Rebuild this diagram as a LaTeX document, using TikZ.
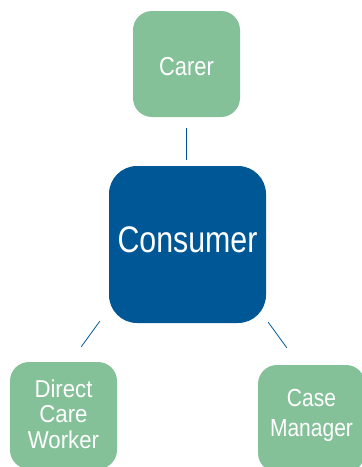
\documentclass[tikz,border=0pt]{standalone}
\usepackage{fontspec}
\setmainfont{Liberation Sans}
\usepackage{tikz}
\usetikzlibrary{calc}
\definecolor{caregreen}{HTML}{84C199}
\definecolor{hubblue}{HTML}{005795}
\tikzset{party/.style={rectangle,rounded corners=19pt,fill=caregreen,minimum width=107pt,minimum height=107pt,inner sep=0pt},
  hub/.style={rectangle,rounded corners=28pt,fill=hubblue,minimum size=157pt,inner sep=0pt},
  tag/.style={text=white,align=center,inner sep=0pt},
  link/.style={draw=hubblue,line width=0.8pt}}

\begin{document}
\begin{tikzpicture}[x=1pt,y=1pt]
    \useasboundingbox (0,0) rectangle (362,-467);
    \node[hub,label={[tag,yshift=4.9pt,font={\fontsize{37}{37}\selectfont\addfontfeatures{FakeStretch=0.82}}]center:Consumer}] (con) at (187.5,-244.5) {};
    \node[party,minimum height=106pt,label={[tag,yshift=-2.7pt,font={\fontsize{26}{26}\selectfont\addfontfeatures{FakeStretch=0.84}}]center:Carer}] (car) at (186.5,-64) {};
    \node[party,label={[tag,yshift=1.7pt,font={\fontsize{24.4}{25.5}\selectfont\addfontfeatures{FakeStretch=0.91}}]center:Direct\\Care\\Worker}] (dcw) at (63.5,-415.5) {};
    \node[party,label={[tag,yshift=3pt,font={\fontsize{24.7}{29.5}\selectfont\addfontfeatures{FakeStretch=0.85}}]center:Case\\Manager}] (cm) at (311.5,-418.5) {};
    \path[link]
    (car.south) edge [shorten <=11pt,shorten >=6pt] (car.south |- con.north)
    ($(con.south west)+(-9,2)$) edge ($(dcw.north east)+(-36,15)$)
    ($(con.south east)+(2,1)$) edge ($(cm.north west)+(29,17)$)
    ;
\end{tikzpicture}
\end{document}
